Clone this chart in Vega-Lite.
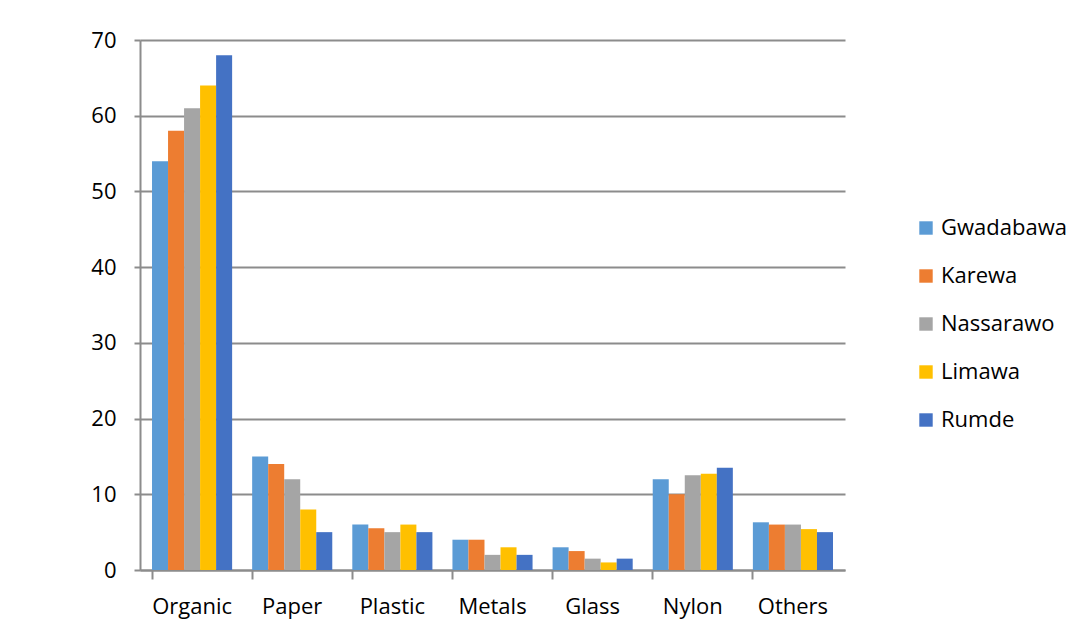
{
  "$schema": "https://vega.github.io/schema/vega-lite/v6.json",
  "width": 705,
  "height": 530,
  "autosize": {"type": "none"},
  "padding": {"left": 140, "top": 40, "right": 242, "bottom": 70},
  "background": "white",
  "config": {
    "view": {"stroke": null},
    "font": "Open Sans"
  },
  "data": {
    "values": [
      {"category": "Organic", "site": "Gwadabawa", "value": 54},
      {"category": "Organic", "site": "Karewa", "value": 58},
      {"category": "Organic", "site": "Nassarawo", "value": 61},
      {"category": "Organic", "site": "Limawa", "value": 64},
      {"category": "Organic", "site": "Rumde", "value": 68},
      {"category": "Paper", "site": "Gwadabawa", "value": 15},
      {"category": "Paper", "site": "Karewa", "value": 14},
      {"category": "Paper", "site": "Nassarawo", "value": 12},
      {"category": "Paper", "site": "Limawa", "value": 8},
      {"category": "Paper", "site": "Rumde", "value": 5},
      {"category": "Plastic", "site": "Gwadabawa", "value": 6},
      {"category": "Plastic", "site": "Karewa", "value": 5.5},
      {"category": "Plastic", "site": "Nassarawo", "value": 5},
      {"category": "Plastic", "site": "Limawa", "value": 6},
      {"category": "Plastic", "site": "Rumde", "value": 5},
      {"category": "Metals", "site": "Gwadabawa", "value": 4},
      {"category": "Metals", "site": "Karewa", "value": 4},
      {"category": "Metals", "site": "Nassarawo", "value": 2},
      {"category": "Metals", "site": "Limawa", "value": 3},
      {"category": "Metals", "site": "Rumde", "value": 2},
      {"category": "Glass", "site": "Gwadabawa", "value": 3},
      {"category": "Glass", "site": "Karewa", "value": 2.5},
      {"category": "Glass", "site": "Nassarawo", "value": 1.5},
      {"category": "Glass", "site": "Limawa", "value": 1},
      {"category": "Glass", "site": "Rumde", "value": 1.5},
      {"category": "Nylon", "site": "Gwadabawa", "value": 12},
      {"category": "Nylon", "site": "Karewa", "value": 10},
      {"category": "Nylon", "site": "Nassarawo", "value": 12.5},
      {"category": "Nylon", "site": "Limawa", "value": 12.7},
      {"category": "Nylon", "site": "Rumde", "value": 13.5},
      {"category": "Others", "site": "Gwadabawa", "value": 6.3},
      {"category": "Others", "site": "Karewa", "value": 6},
      {"category": "Others", "site": "Nassarawo", "value": 6},
      {"category": "Others", "site": "Limawa", "value": 5.4},
      {"category": "Others", "site": "Rumde", "value": 5}
    ]
  },
  "mark": {"type": "bar"},
  "encoding": {
    "x": {
      "field": "category",
      "type": "nominal",
      "sort": ["Organic", "Paper", "Plastic", "Metals", "Glass", "Nylon", "Others"],
      "scale": {"paddingInner": 0.2, "paddingOuter": 0.12},
      "axis": {
        "title": null,
        "labelAngle": 0,
        "labelFontSize": 22,
        "labelColor": "#000000",
        "labelPadding": 17,
        "bandPosition": 0,
        "tickSize": 9,
        "tickWidth": 2,
        "tickColor": "#8c8c8c",
        "domainColor": "#8c8c8c",
        "domainWidth": 2,
        "grid": false
      }
    },
    "xOffset": {
      "field": "site",
      "sort": ["Gwadabawa", "Karewa", "Nassarawo", "Limawa", "Rumde"],
      "scale": {"paddingInner": 0}
    },
    "y": {
      "field": "value",
      "type": "quantitative",
      "scale": {"domain": [0, 70]},
      "axis": {
        "title": null,
        "values": [0, 10, 20, 30, 40, 50, 60, 70],
        "labelFontSize": 22,
        "labelColor": "#000000",
        "labelPadding": 18,
        "tickSize": 6,
        "tickWidth": 2,
        "tickColor": "#8c8c8c",
        "domainColor": "#8c8c8c",
        "domainWidth": 2,
        "gridColor": "#8c8c8c",
        "gridWidth": 2
      }
    },
    "color": {
      "field": "site",
      "type": "nominal",
      "sort": ["Gwadabawa", "Karewa", "Nassarawo", "Limawa", "Rumde"],
      "scale": {
        "domain": ["Gwadabawa", "Karewa", "Nassarawo", "Limawa", "Rumde"],
        "range": ["#5B9BD5", "#ED7D31", "#A5A5A5", "#FFC000", "#4472C4"]
      },
      "legend": {
        "title": null,
        "orient": "none",
        "legendX": 775,
        "legendY": 177,
        "symbolType": "square",
        "symbolSize": 180,
        "symbolStrokeWidth": 0,
        "labelFontSize": 22,
        "labelColor": "#000000",
        "labelOffset": 4,
        "rowPadding": 26
      }
    }
  }
}
